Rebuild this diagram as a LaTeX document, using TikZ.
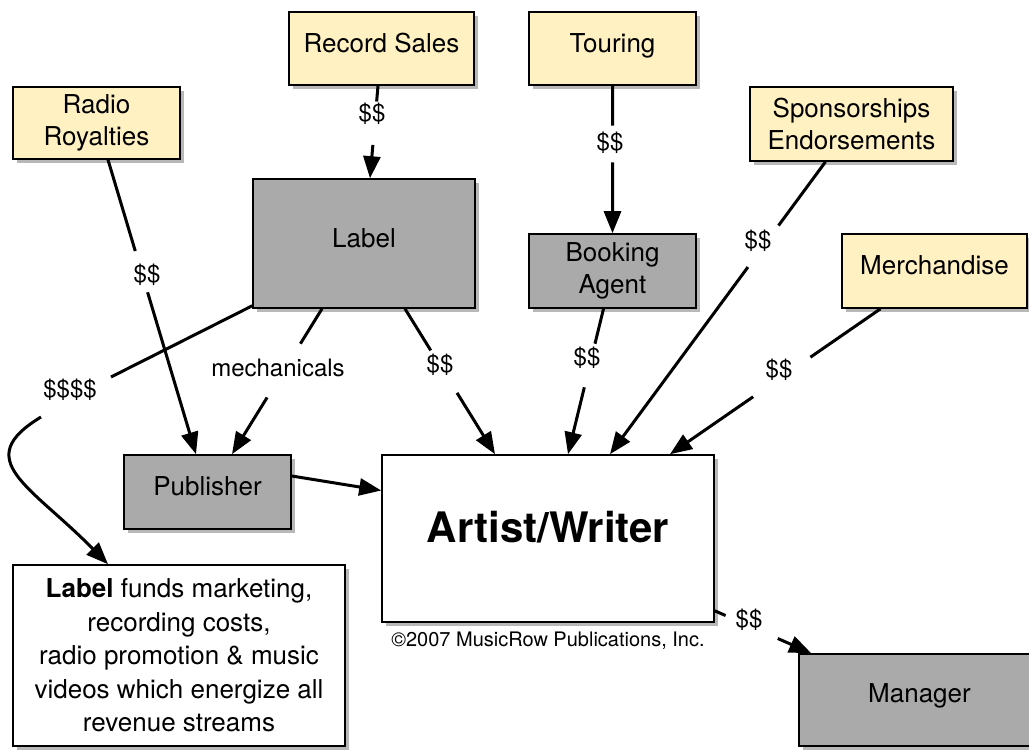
\documentclass[tikz,border=0pt]{standalone}
\usepackage{fontspec}
\setmainfont{TeX Gyre Heros}
\usetikzlibrary{arrows.meta,shadows,calc}
\definecolor{boxyellow}{RGB}{255,241,194}
\definecolor{boxgray}{RGB}{170,170,170}
\begin{document}
\begin{tikzpicture}[x=1pt,y=-1pt,
  box/.style={draw=black, line width=1.6pt, inner sep=0pt, align=center,
    font=\fontsize{26}{32}\selectfont,
    drop shadow={shadow xshift=3.5pt, shadow yshift=-3.5pt, fill=black, opacity=0.28}},
  srcbox/.style={box, fill=boxyellow},
  midbox/.style={box, fill=boxgray},
  whitebox/.style={box, fill=white},
  oneline/.style={text depth=11pt},
  ln/.style={line width=3pt, draw=black},
  arr/.style={ln, -{Triangle[length=22pt,width=17pt]}},
  lbl/.style={font=\fontsize{24}{28}\selectfont, inner sep=0pt}
]
\useasboundingbox (0,0) rectangle (1029,750);
\clip (0,0) rectangle (1029,750);

% boxes
\node[srcbox,oneline,minimum width=185pt,minimum height=73pt] (rs) at (381.5,48.5) {Record Sales};
\node[srcbox,oneline,minimum width=167pt,minimum height=73pt] (tour) at (612.5,48.5) {Touring};
\node[srcbox,minimum width=167pt,minimum height=72pt] (radio) at (96.5,123) {Radio\\Royalties};
\node[srcbox,minimum width=203pt,minimum height=74pt] (spons) at (851.5,124) {Sponsorships\\Endorsements};
\node[srcbox,oneline,minimum width=185pt,minimum height=74pt] (merch) at (934.5,271) {Merchandise};
\node[midbox,oneline,minimum width=222pt,minimum height=129pt] (lab) at (364,243.5) {Label};
\node[midbox,minimum width=167pt,minimum height=74pt] (book) at (612.5,271) {Booking\\Agent};
\node[midbox,oneline,minimum width=167pt,minimum height=74pt] (pub) at (207.5,492) {Publisher};
\node[whitebox,minimum width=332pt,minimum height=167pt,
      font=\bfseries\fontsize{42}{48}\selectfont,text depth=24pt] (art) at (548,538.5) {Artist/Writer};
\node[whitebox,minimum width=332pt,minimum height=181pt,
      font=\fontsize{26}{33.5}\selectfont] (funds) at (179,655.5)
  {\textbf{Label} funds marketing,\\recording costs,\\radio promotion \& music\\videos which energize all\\revenue streams};
\node[midbox,text depth=14pt,minimum width=241pt,minimum height=92pt] (mgr) at (919.5,700) {Manager};

\node[font=\fontsize{20}{24}\selectfont] (copy) at (548,641) {©2007 MusicRow Publications, Inc.};

% Record Sales -> Label
\coordinate (s1) at ($(rs.south)+(-3.5,0)$);
\coordinate (e1) at ($(lab.north)+(6,0)$);
\draw[ln] (s1) -- ($(s1)!0.17!(e1)$);
\draw[arr] ($(s1)!0.64!(e1)$) -- (e1);
\node[lbl] (l1) at (372,114) {\$\$};

% Touring -> Booking Agent
\coordinate (s2) at (tour.south);
\coordinate (e2) at (book.north);
\draw[ln] (s2) -- ($(s2)!0.27!(e2)$);
\draw[arr] ($(s2)!0.52!(e2)$) -- (e2);
\node[lbl] (l2) at (610,143) {\$\$};

% Radio Royalties -> Publisher
\coordinate (s3) at ($(radio.south)+(11.5,0)$);
\coordinate (e3) at ($(pub.north)+(-11.5,0)$);
\draw[ln] (s3) -- ($(s3)!0.31!(e3)$);
\draw[arr] ($(s3)!0.45!(e3)$) -- (e3);
\node[lbl] (l3) at (147,275) {\$\$};

% Label -> Publisher (mechanicals)
\coordinate (s4) at ($(lab.south)+(-42,0)$);
\coordinate (e4) at ($(pub.north)+(24.5,0)$);
\draw[ln] (s4) -- ($(s4)!0.24!(e4)$);
\draw[arr] ($(s4)!0.61!(e4)$) -- (e4);
\node[lbl] (l4) at (278,368) {mechanicals};

% Label -> funds ($$$$)
\node[lbl] (l5) at (70,390) {\$\$\$\$};
\draw[ln] ($(lab.south west)+(0,-3)$) -- ($(l5)+(41,-13)$);
\draw[arr] ($(l5)+(-29,27)$) .. controls (-30,460) and (30,485) .. ($(funds.north)+(-71,0)$);

% Label -> Artist
\coordinate (s6) at ($(lab.south)+(41,0)$);
\coordinate (e6) at ($(art.north)+(-53,0)$);
\draw[ln] (s6) -- ($(s6)!0.286!(e6)$);
\draw[arr] ($(s6)!0.578!(e6)$) -- (e6);
\node[lbl] (l6) at (440,365) {\$\$};

% Booking Agent -> Artist
\coordinate (s7) at ($(book.south)+(-9,0)$);
\coordinate (e7) at ($(art.north)+(20,0)$);
\draw[ln] (s7) -- ($(s7)!0.24!(e7)$);
\draw[arr] ($(s7)!0.54!(e7)$) -- (e7);
\node[lbl] (l7) at (587,358) {\$\$};

% Sponsorships -> Artist
\coordinate (s8) at ($(spons.south)+(-26,0)$);
\coordinate (e8) at ($(art.north)+(62,0)$);
\draw[ln] (s8) -- ($(s8)!0.218!(e8)$);
\draw[arr] ($(s8)!0.36!(e8)$) -- (e8);
\node[lbl] (l8) at (758,241) {\$\$};

% Merchandise -> Artist
\coordinate (s9) at ($(merch.south)+(-54,0)$);
\coordinate (e9) at ($(art.north)+(122,0)$);
\draw[ln] (s9) -- ($(s9)!0.333!(e9)$);
\draw[arr] ($(s9)!0.605!(e9)$) -- (e9);
\node[lbl] (l9) at (779,370) {\$\$};

% Publisher -> Artist
\draw[arr] ($(pub.east)+(0,-16)$) -- ($(art.west)+(0,-48)$);

% Artist -> Manager
\coordinate (s11) at ($(art.south east)+(0,-12)$);
\coordinate (e11) at ($(mgr.north west)+(13,0)$);
\draw[ln] (s11) -- ($(s11)!0.112!(e11)$);
\draw[arr] ($(s11)!0.653!(e11)$) -- (e11);
\node[lbl] (l11) at (749,620) {\$\$};
\end{tikzpicture}
\end{document}
